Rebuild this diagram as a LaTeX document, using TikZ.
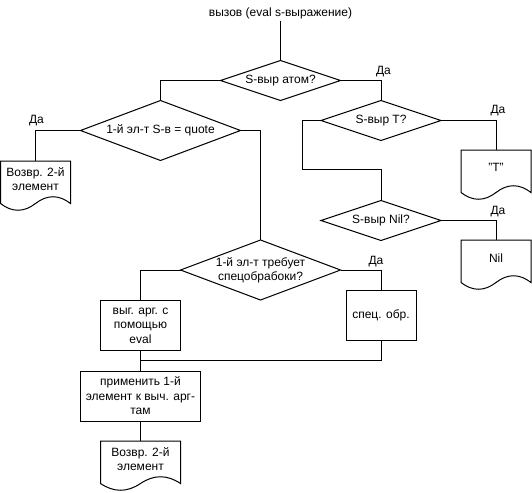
\documentclass[tikz,border=0pt]{standalone}
\usepackage{fontspec}
\setmainfont{Liberation Sans}
\usetikzlibrary{shapes.geometric}

\tikzset{
  txt/.style={font=\fontsize{12}{14.4}\selectfont, align=center, inner sep=0pt},
  line/.style={line width=1pt, draw=black},
  dec/.style={diamond, line, inner sep=0pt, outer sep=0pt},
  proc/.style={rectangle, line, txt, outer sep=0pt},
  docbox/.style={rectangle, inner sep=0pt, outer sep=0pt, minimum height=50pt},
  yes/.style={txt, pos=0.5},
}

% document (wavy bottom) outline around a docbox node: #1 = node, #2 = width
\newcommand\docoutline[2]{%
  \draw[line] (#1.north west) -- (#1.north east) -- ++(0,42.5)
    .. controls +({-#2/6},-9) and +({#2/6},-9) .. ++({-#2/2},0)
    .. controls +({-#2/6},9) and +({#2/6},9) .. ++({-#2/2},0) -- cycle;}

\begin{document}
\begin{tikzpicture}[x=1pt, y=-1pt]
\useasboundingbox (0,0) rectangle (532,492);

% start
\node[txt, text height=9pt, text depth=3pt, inner ysep=1.5pt] (title) at (280.5,13.3) {вызов (eval s-выражение)};

% decisions
\node[dec, minimum width=120pt, minimum height=40pt, label={[txt]center:S-выр атом?}] (d1) at (280.5,80.5) {};
\node[dec, minimum width=160pt, minimum height=60pt, label={[txt]center:1-й эл-т S-в = quote}] (d2) at (160.5,130.5) {};
\node[dec, minimum width=120pt, minimum height=40pt, label={[txt]center:S-выр T?}] (d3) at (381,120.5) {};
\node[dec, minimum width=120pt, minimum height=40pt, label={[txt]center:S-выр Nil?}] (d5) at (381,220.5) {};
\node[dec, minimum width=160pt, minimum height=60pt, label={[txt]center:1-й эл-т требует\\спецобрабоки?}] (d4) at (260.5,270) {};

% results (document shapes)
\node[docbox, minimum width=70pt, label={[txt, yshift=7pt]center:Возвр. 2-й\\элемент}] (ldoc) at (35.5,186) {};
\node[docbox, minimum width=70pt, label={[txt, yshift=8pt]center:"T"}] (tdoc) at (496,175) {};
\node[docbox, minimum width=70pt, label={[txt, yshift=7pt]center:Nil}] (ndoc) at (496,265) {};
\node[docbox, minimum width=80pt, label={[txt, yshift=7pt]center:Возвр. 2-й\\элемент}] (bdoc) at (140.5,466) {};
\docoutline{ldoc}{70}
\docoutline{tdoc}{70}
\docoutline{ndoc}{70}
\docoutline{bdoc}{80}

% processes
\node[proc, minimum width=80pt, minimum height=50pt] (lbox) at (140.5,325.5) {выг. арг. с\\помощью\\eval};
\node[proc, minimum width=70pt, minimum height=50pt] (spec) at (381,315.5) {спец. обр.};
\node[proc, minimum width=120pt, minimum height=50pt] (apply) at (140.5,396) {применить 1-й\\элемент к выч. арг-\\там};

% bend and junction points
\coordinate (bend) at (302,169.5);
\coordinate (merge) at (140.5,360);

% connectors
\draw[line] (title.south) -- (d1.north);
\draw[line] (d1.west) -| (d2.north);
\draw[line] (d1.east) -| node[yes, xshift=2.5pt, yshift=8.5pt] {Да} (d3.north);
\draw[line] (d2.west) -| node[yes, xshift=1pt, yshift=9.5pt] {Да} (ldoc.north);
\draw[line] (d2.east) -| (d4.north);
\draw[line] (d3.east) -| node[yes, xshift=2pt, yshift=10pt] {Да} (tdoc.north);
\draw[line] (d3.west) -| (bend) -| (d5.north);
\draw[line] (d5.east) -| node[yes, xshift=2pt, yshift=8.5pt] {Да} (ndoc.north);
\draw[line] (d4.west) -| (lbox.north);
\draw[line] (d4.east) -| node[yes, xshift=-5pt, yshift=8.5pt] {Да} (spec.north);
\draw[line] (lbox.south) -- (apply.north);
\draw[line] (spec.south) |- (merge);
\draw[line] (apply.south) -- (bdoc.north);
\end{tikzpicture}
\end{document}
